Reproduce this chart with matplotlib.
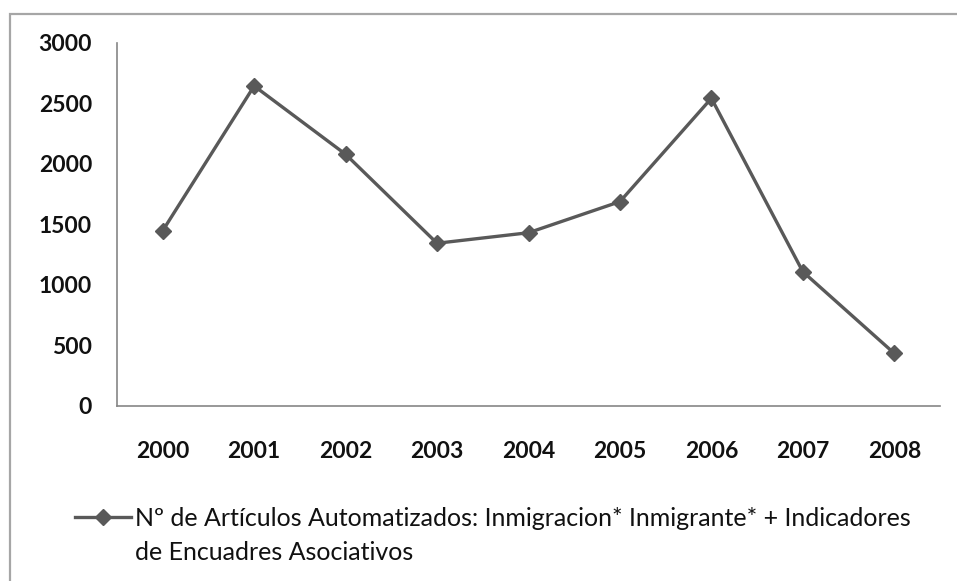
import matplotlib.pyplot as plt
from matplotlib.lines import Line2D
from matplotlib.patches import Rectangle

years = ['2000', '2001', '2002', '2003', '2004', '2005', '2006', '2007', '2008']
articles = [1449, 2645, 2080, 1345, 1432, 1689, 2543, 1110, 435]
label_1 = 'Nº de Artículos Automatizados: Inmigracion* Inmigrante* + Indicadores'
label_2 = 'de Encuadres Asociativos'

line_color = '#595959'
text_color = '#111111'
plt.rcParams['font.family'] = ['Lato', 'DejaVu Sans']

fig = plt.figure(figsize=(9.57, 5.81), dpi=100)
# outer chart border (only top and left visible in the crop)
fig.patches.append(Rectangle((10 / 957, -0.1), 1.2, 1 - 14 / 581 + 0.1,
                             transform=fig.transFigure, fill=False,
                             edgecolor='#a6a6a6', linewidth=1.6))

ax = fig.add_axes([117 / 957, 175 / 581, (940 - 117) / 957, (406 - 43) / 581])
x = range(len(years))
ax.plot(x, articles, color=line_color, linewidth=2.4, marker='D',
        markersize=8.5, label=label_1)

ax.set_xlim(-0.5, len(years) - 0.5)
ax.set_ylim(0, 3000)
ax.set_yticks(range(0, 3001, 500))
ax.set_xticks(list(x))
ax.set_xticklabels(years)

for side in ['top', 'right']:
    ax.spines[side].set_visible(False)
for side in ['left', 'bottom']:
    ax.spines[side].set_color('#868686')
    ax.spines[side].set_linewidth(1.2)

ax.tick_params(axis='both', length=0, labelsize=16.5, labelcolor=text_color)
ax.tick_params(axis='y', pad=18)
ax.tick_params(axis='x', pad=25)
for lbl in ax.get_xticklabels() + ax.get_yticklabels():
    lbl.set_fontweight('bold')

fs = 18
handle = Line2D([], [], color=line_color, linewidth=2.4, marker='D', markersize=8.5)
leg = fig.legend([handle], [label_1], loc='center left',
                 bbox_to_anchor=(75 / 957, 1 - 518 / 581), frameon=False,
                 borderaxespad=0, borderpad=0,
                 handlelength=56 / (fs * 100 / 72), handletextpad=0.15,
                 prop={'size': fs})
fig.text(135 / 957, 1 - 553 / 581, label_2, ha='left', va='center',
         fontsize=fs, color=text_color)
for t in leg.get_texts():
    t.set_color(text_color)

fig.savefig('out.png', dpi=100)
